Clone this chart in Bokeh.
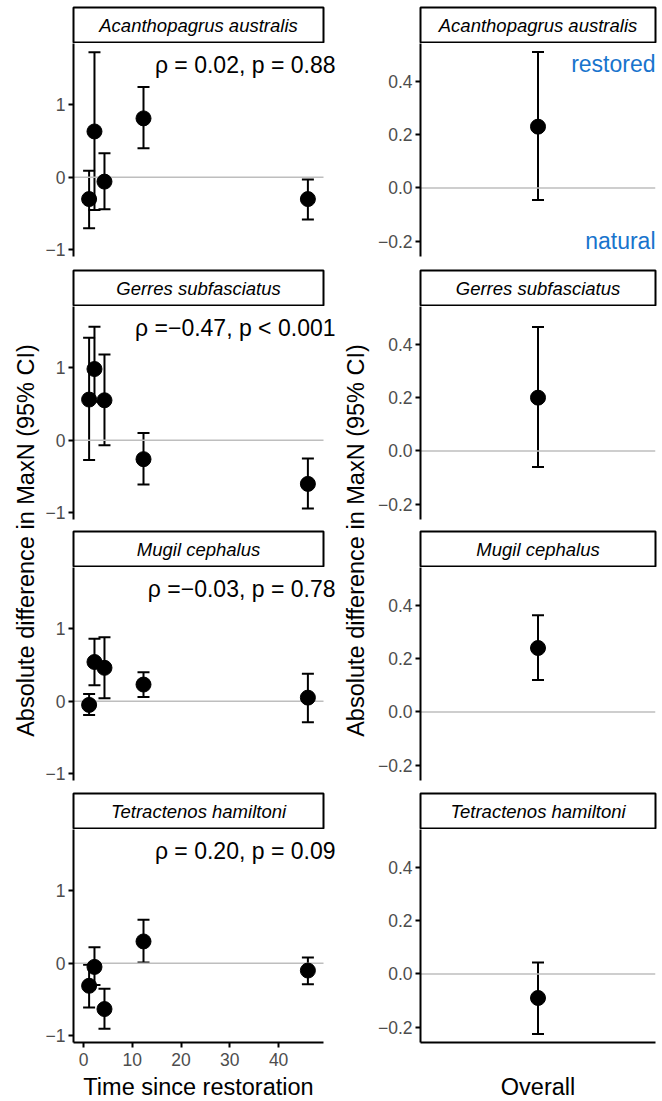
from bokeh.plotting import figure
from bokeh.models import (Range1d, FactorRange, FixedTicker, Whisker, TeeHead,
                          ColumnDataSource, Label, LinearAxis)
from bokeh.layouts import column, row
from bokeh.core.properties import value
from bokeh.embed import file_html
from bokeh.resources import INLINE

FONT = "Liberation Sans"

# ---------------- data ----------------
species = ["Acanthopagrus australis", "Gerres subfasciatus",
           "Mugil cephalus", "Tetractenos hamiltoni"]
time_since = [1.15, 2.25, 4.3, 12.3, 46.0]

acan_mean = [-0.30, 0.63, -0.06, 0.81, -0.30]
acan_lower = [-0.70, -0.45, -0.44, 0.40, -0.58]
acan_upper = [0.09, 1.72, 0.33, 1.24, -0.03]

gerr_mean = [0.56, 0.98, 0.55, -0.26, -0.60]
gerr_lower = [-0.27, 0.53, -0.07, -0.61, -0.94]
gerr_upper = [1.41, 1.56, 1.18, 0.10, -0.25]

mugil_mean = [-0.05, 0.54, 0.46, 0.23, 0.05]
mugil_lower = [-0.19, 0.22, 0.04, 0.06, -0.29]
mugil_upper = [0.10, 0.86, 0.88, 0.40, 0.38]

tetra_mean = [-0.31, -0.05, -0.63, 0.30, -0.10]
tetra_lower = [-0.61, -0.30, -0.90, 0.01, -0.29]
tetra_upper = [-0.02, 0.22, -0.35, 0.60, 0.08]

overall_cat = ["Overall"]
overall_mean = [0.23, 0.20, 0.24, -0.09]
overall_lower = [-0.045, -0.06, 0.12, -0.225]
overall_upper = [0.51, 0.465, 0.363, 0.043]

rho_labels = ["\u03c1 = 0.02, p = 0.88", "\u03c1 =\u22120.47, p < 0.001",
              "\u03c1 =\u22120.03, p = 0.78", "\u03c1 = 0.20, p = 0.09"]

left_yticks = [-1, 0, 1]
left_ylabels = ["\u22121", "0", "1"]
right_yticks = [-0.2, 0.0, 0.2, 0.4]
right_ylabels = ["\u22120.2", "0.0", "0.2", "0.4"]
xticks = [0, 10, 20, 30, 40]

y_title = "Absolute difference in MaxN (95% CI)"
x_title_left = "Time since restoration"
x_title_right = "Overall"
side_labels = ["restored", "natural"]

means = [acan_mean, gerr_mean, mugil_mean, tetra_mean]
lowers = [acan_lower, gerr_lower, mugil_lower, tetra_lower]
uppers = [acan_upper, gerr_upper, mugil_upper, tetra_upper]

# ---------------- layout constants ----------------
FRAME_H = 213
STRIP_FH = 35
TOP0 = 7
GAPS = [13, 11, 12]
AXIS_B = 30
XT_H = 28
TOTAL_H = (TOP0 + STRIP_FH + 1) + 3 * (STRIP_FH + 2) + 4 * FRAME_H + sum(GAPS) + AXIS_B + XT_H

YT_L_W, YT_L_EDGE = 42, 38
LEFT_BL = 30
LEFT_STRIP_FW, LEFT_STRIP_BR = 250, 16
LEFT_PANEL_FW, LEFT_PANEL_BR = 265, 1
YT_R_W, YT_R_EDGE = 31, 27
RIGHT_BL, RIGHT_FW, RIGHT_BR = 48, 235, 2

TICK_FS = "17.5px"
TITLE_FS = "23.5px"
STRIP_FS = "18.5px"
ANN_FS = "23px"
BLUE = "#1874CD"

X_VIS_START, X_VIS_END = -2.05, 49.2
px_per_x = LEFT_STRIP_FW / (X_VIS_END - X_VIS_START)
left_xr = Range1d(X_VIS_START, X_VIS_END + (LEFT_PANEL_FW - LEFT_STRIP_FW) / px_per_x)
left_yr = Range1d(-1.09, 1.84)
right_yr = Range1d(-0.257, 0.542)


def strip_fig(name, fw, bl, br, top):
    p = figure(frame_width=fw, frame_height=STRIP_FH, x_range=Range1d(0, 1),
               y_range=Range1d(0, 1), output_backend="svg", toolbar_location=None,
               x_axis_location=None, y_axis_location=None,
               min_border_left=bl, min_border_right=br, min_border_top=top,
               min_border_bottom=1)
    p.grid.visible = False
    p.outline_line_color = "black"
    p.outline_line_width = 2
    p.text(x=[0.5], y=[0.5], text=[name], text_align="center", text_baseline="middle",
           text_font=value(FONT), text_font_style="italic", text_font_size=STRIP_FS,
           text_color="black")
    return p


def xtitle_fig(text, fw, bl, br):
    p = figure(frame_width=fw, frame_height=XT_H, x_range=Range1d(0, 1),
               y_range=Range1d(0, 1), output_backend="svg", toolbar_location=None,
               x_axis_location=None, y_axis_location=None,
               min_border_left=bl, min_border_right=br, min_border_top=0,
               min_border_bottom=0)
    p.grid.visible = False
    p.outline_line_color = None
    p.text(x=[0.5], y=[0.5], text=[text], text_align="center",
           text_baseline="middle", text_font=value(FONT), text_font_size=TITLE_FS,
           text_color="black")
    return p


def style_axis_common(ax):
    ax.axis_line_color = "black"
    ax.axis_line_width = 2
    ax.major_tick_line_color = "black"
    ax.major_tick_line_width = 2
    ax.major_tick_in = 0
    ax.major_tick_out = 5
    ax.minor_tick_line_color = None
    ax.major_label_text_font = FONT
    ax.major_label_text_font_size = TICK_FS
    ax.major_label_text_color = "#4D4D4D"
    ax.major_label_standoff = 3


def style_yaxis(ax, ticks, labels):
    style_axis_common(ax)
    ax.ticker = FixedTicker(ticks=ticks)
    ax.major_label_overrides = {t: l for t, l in zip(ticks, labels)}


def panel_fig(x_range, y_range, fw, bl, br, bottom):
    p = figure(frame_width=fw, frame_height=FRAME_H, x_range=x_range, y_range=y_range,
               output_backend="svg", toolbar_location=None,
               x_axis_location=None, y_axis_location="left",
               min_border_left=bl, min_border_right=br, min_border_top=0,
               min_border_bottom=bottom)
    p.grid.visible = False
    p.outline_line_color = None
    return p


def add_errorbars(p, src, base):
    p.add_layout(Whisker(source=src, base=base, upper="hi", lower="lo", dimension="height",
                         line_color="black", line_width=2, level="underlay",
                         upper_head=TeeHead(size=12, line_width=2, line_color="black"),
                         lower_head=TeeHead(size=12, line_width=2, line_color="black")))
    p.scatter(base, "y", source=src, size=15, color="black")


left_children = []
right_children = []
for i, sp in enumerate(species):
    is_bottom = (i == len(species) - 1)
    bottom = AXIS_B if is_bottom else GAPS[i]
    top = TOP0 if i == 0 else 1

    # ---- left: time since restoration ----
    left_children.append(strip_fig(sp, LEFT_STRIP_FW, LEFT_BL, LEFT_STRIP_BR, top))
    pl = panel_fig(left_xr, left_yr, LEFT_PANEL_FW, LEFT_BL, LEFT_PANEL_BR, bottom)
    style_yaxis(pl.yaxis[0], left_yticks, left_ylabels)
    # reference line at zero, limited to the visible data extent
    pl.segment(x0=[X_VIS_START], x1=[X_VIS_END], y0=[0], y1=[0],
               line_color="#BEBEBE", line_width=1.5)
    src = ColumnDataSource(dict(x=time_since, y=means[i], lo=lowers[i], hi=uppers[i]))
    add_errorbars(pl, src, "x")
    pl.add_layout(Label(x=X_VIS_END, y=1.546, x_offset=12, text=rho_labels[i],
                        text_align="right", text_baseline="middle",
                        text_font=FONT, text_font_size=ANN_FS, text_color="black"))
    if is_bottom:
        ax = LinearAxis(ticker=FixedTicker(ticks=xticks), bounds=(X_VIS_START, X_VIS_END))
        style_axis_common(ax)
        ax.major_label_standoff = 5
        pl.add_layout(ax, "below")
    left_children.append(pl)

    # ---- right: overall ----
    right_children.append(strip_fig(sp, RIGHT_FW, RIGHT_BL, RIGHT_BR, top))
    pr = panel_fig(FactorRange(factors=overall_cat), right_yr, RIGHT_FW, RIGHT_BL,
                   RIGHT_BR, bottom)
    style_yaxis(pr.yaxis[0], right_yticks, right_ylabels)
    pr.segment(x0=[0], x1=[1], y0=[0], y1=[0], line_color="#BEBEBE", line_width=1.5)
    srcr = ColumnDataSource(dict(x=overall_cat, y=[overall_mean[i]],
                                 lo=[overall_lower[i]], hi=[overall_upper[i]]))
    add_errorbars(pr, srcr, "x")
    if i == 0:
        pr.add_layout(Label(x=1.0, y=0.4636, text=side_labels[0], text_align="right",
                            text_baseline="middle", text_font=FONT,
                            text_font_size=ANN_FS, text_color=BLUE))
        pr.add_layout(Label(x=1.0, y=-0.197, text=side_labels[1], text_align="right",
                            text_baseline="middle", text_font=FONT,
                            text_font_size=ANN_FS, text_color=BLUE))
    if is_bottom:
        ax = LinearAxis(ticker=FixedTicker(ticks=[]))
        style_axis_common(ax)
        ax.major_tick_line_color = None
        ax.major_tick_out = 0
        ax.major_label_standoff = 0
        pr.add_layout(ax, "below")
    right_children.append(pr)

left_children.append(xtitle_fig(x_title_left, LEFT_STRIP_FW, LEFT_BL, LEFT_STRIP_BR))
right_children.append(xtitle_fig(x_title_right, RIGHT_FW, RIGHT_BL, RIGHT_BR))


def ytitle_fig(width, edge):
    p = figure(frame_width=width - edge, frame_height=1080, x_range=Range1d(0, 1),
               y_range=Range1d(0, 1), output_backend="svg", toolbar_location=None,
               x_axis_location=None, y_axis_location="left",
               min_border_left=edge, min_border_right=0, min_border_top=0,
               min_border_bottom=TOTAL_H - 1080)
    p.grid.visible = False
    p.outline_line_color = None
    ax = p.yaxis[0]
    ax.ticker = FixedTicker(ticks=[])
    ax.axis_line_color = None
    ax.major_tick_line_color = None
    ax.minor_tick_line_color = None
    ax.major_tick_out = 0
    ax.major_label_standoff = 0
    ax.axis_label = y_title
    ax.axis_label_text_font = FONT
    ax.axis_label_text_font_size = TITLE_FS
    ax.axis_label_text_font_style = "normal"
    ax.axis_label_text_color = "black"
    ax.axis_label_standoff = 0
    return p


layout = row(ytitle_fig(YT_L_W, YT_L_EDGE), column(*left_children),
             ytitle_fig(YT_R_W, YT_R_EDGE), column(*right_children))

open("out.html", "w").write(file_html(layout, INLINE))
